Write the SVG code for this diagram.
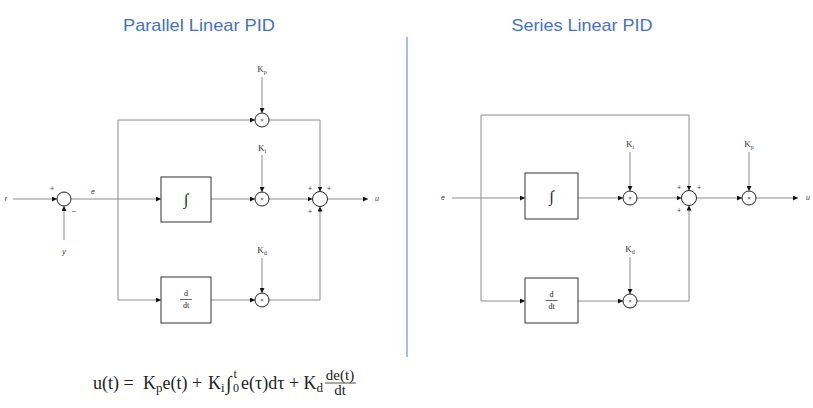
<svg xmlns="http://www.w3.org/2000/svg" width="813" height="408" viewBox="0 0 813 408">
<style>
.title{font-family:"Liberation Sans",Arial,sans-serif;font-size:17px;fill:#4472C4;text-anchor:middle}
.conn{fill:none;stroke:#8c8c8c;stroke-width:1}
.arr{marker-end:url(#ah)}
.blk{fill:#fff;stroke:#333;stroke-width:1}
.circ{fill:#fff;stroke:#222;stroke-width:1}
.sig{font-family:"Liberation Sans",Arial,sans-serif;font-size:7px;font-style:italic;fill:#333;text-anchor:middle}
.sgn{font-family:"Liberation Sans",Arial,sans-serif;font-size:7px;fill:#333;text-anchor:middle}
.x{font-family:"Liberation Sans",Arial,sans-serif;font-size:6px;fill:#333;text-anchor:middle}
.k{font-family:"Liberation Serif","Times New Roman",serif;font-size:9px;fill:#333;text-anchor:middle}
.op{font-family:"Liberation Serif","Times New Roman",serif;fill:#222;text-anchor:middle}
.eq{font-family:"Liberation Serif","DejaVu Serif",serif;font-size:18px;fill:#222}
</style>
<defs>
<marker id="ah" viewBox="0 0 6 6" markerWidth="5" markerHeight="5" refX="6" refY="3" orient="auto" markerUnits="userSpaceOnUse">
<path d="M0,0 L6,3 L0,6 z" fill="#111"/>
</marker>
</defs>
<rect width="813" height="408" fill="#fff"/>
<text class="title" x="199" y="31" textLength="152" lengthAdjust="spacingAndGlyphs">Parallel Linear PID</text>
<text class="title" x="582" y="31" textLength="141" lengthAdjust="spacingAndGlyphs">Series Linear PID</text>
<line x1="407" y1="37" x2="407" y2="357" stroke="#8FAADC" stroke-width="1.5"/>

<g id="connectors">
<!-- parallel -->
<path class="conn arr" d="M13,199 H57"/>
<path class="conn arr" d="M64,240 V206"/>
<path class="conn arr" d="M71,199 H161"/>
<path class="conn" d="M118,120 V300"/>
<path class="conn arr" d="M118,120 H255"/>
<path class="conn arr" d="M118,300 H161"/>
<path class="conn arr" d="M211,199 H255"/>
<path class="conn arr" d="M211,300 H255"/>
<path class="conn arr" d="M262,77 V113"/>
<path class="conn arr" d="M262,155 V192"/>
<path class="conn arr" d="M262,258 V293"/>
<path class="conn arr" d="M269,120 H320 V191.5"/>
<path class="conn arr" d="M269,199 H312.5"/>
<path class="conn arr" d="M269,300 H320 V206.5"/>
<path class="conn arr" d="M327.5,199 H368"/>
<!-- series -->
<path class="conn arr" d="M452,198 H525"/>
<path class="conn" d="M481,115 V301"/>
<path class="conn arr" d="M481,115 H689 V190.5"/>
<path class="conn arr" d="M481,301 H525"/>
<path class="conn arr" d="M578,198 H623"/>
<path class="conn arr" d="M578,301 H623"/>
<path class="conn arr" d="M630,152 V191"/>
<path class="conn arr" d="M630,257 V294"/>
<path class="conn arr" d="M637,198 H681.5"/>
<path class="conn arr" d="M637,301 H689 V205.5"/>
<path class="conn arr" d="M696.5,198 H742"/>
<path class="conn arr" d="M749,152 V191"/>
<path class="conn arr" d="M756,198 H798"/>
</g>

<!-- parallel nodes -->
<g id="p-r"><text class="sig" x="6" y="201">r</text></g>
<g id="p-y"><text class="sig" x="64" y="254">y</text></g>
<g id="p-e"><text class="sig" x="93" y="194">e</text></g>
<g id="p-u"><text class="sig" x="377" y="201">u</text></g>
<g id="p-sum1">
<circle class="circ" cx="64" cy="199" r="7"/>
<text class="sgn" x="52" y="191">+</text>
<text class="sgn" x="74" y="213">–</text>
</g>
<g id="p-int">
<rect class="blk" x="161" y="177" width="50" height="45"/>
<text class="op" x="186" y="205" font-size="16" font-style="italic">∫</text>
</g>
<g id="p-der">
<rect class="blk" x="161" y="277" width="50" height="46"/>
<text class="op" x="186" y="296" font-size="8">d</text>
<line x1="180" y1="299.5" x2="192" y2="299.5" stroke="#222" stroke-width="0.7"/>
<text class="op" x="186" y="308" font-size="8">dt</text>
</g>
<g id="p-kp"><text class="k" x="262" y="72">K<tspan font-size="6" dy="2">p</tspan></text></g>
<g id="p-ki"><text class="k" x="262" y="151">K<tspan font-size="6" dy="2">i</tspan></text></g>
<g id="p-kd"><text class="k" x="262" y="253">K<tspan font-size="6" dy="2">d</tspan></text></g>
<g id="p-m1"><circle class="circ" cx="262" cy="120" r="7"/><text class="x" x="262" y="122">×</text></g>
<g id="p-m2"><circle class="circ" cx="262" cy="199" r="7"/><text class="x" x="262" y="201">×</text></g>
<g id="p-m3"><circle class="circ" cx="262" cy="300" r="7"/><text class="x" x="262" y="302">×</text></g>
<g id="p-sum2">
<circle class="circ" cx="320" cy="199" r="7.5"/>
<text class="sgn" x="310" y="191">+</text>
<text class="sgn" x="329" y="191">+</text>
<text class="sgn" x="310" y="214">+</text>
</g>

<!-- series nodes -->
<g id="s-e"><text class="sig" x="443" y="200">e</text></g>
<g id="s-u"><text class="sig" x="808" y="200">u</text></g>
<g id="s-int">
<rect class="blk" x="525" y="173" width="53" height="46"/>
<text class="op" x="551.5" y="202" font-size="16" font-style="italic">∫</text>
</g>
<g id="s-der">
<rect class="blk" x="525" y="278" width="53" height="45"/>
<text class="op" x="551.5" y="297" font-size="8">d</text>
<line x1="545.5" y1="300.5" x2="557.5" y2="300.5" stroke="#222" stroke-width="0.7"/>
<text class="op" x="551.5" y="309" font-size="8">dt</text>
</g>
<g id="s-ki"><text class="k" x="630" y="147">K<tspan font-size="6" dy="2">i</tspan></text></g>
<g id="s-kd"><text class="k" x="630" y="252">K<tspan font-size="6" dy="2">d</tspan></text></g>
<g id="s-kp"><text class="k" x="749" y="147">K<tspan font-size="6" dy="2">p</tspan></text></g>
<g id="s-m1"><circle class="circ" cx="630" cy="198" r="7"/><text class="x" x="630" y="200">×</text></g>
<g id="s-m2"><circle class="circ" cx="630" cy="301" r="7"/><text class="x" x="630" y="303">×</text></g>
<g id="s-m3"><circle class="circ" cx="749" cy="198" r="7"/><text class="x" x="749" y="200">×</text></g>
<g id="s-sum">
<circle class="circ" cx="689" cy="198" r="7.5"/>
<text class="sgn" x="679" y="190">+</text>
<text class="sgn" x="699" y="190">+</text>
<text class="sgn" x="679" y="213">+</text>
</g>

<!-- formula -->
<g id="formula" class="eq">
<text x="93" y="389">u(t) =</text>
<text x="143" y="389">K<tspan font-size="13" dy="3">p</tspan><tspan dy="-3">e(t) +</tspan></text>
<text x="208" y="389">K<tspan font-size="13" dy="3">i</tspan></text>
<text x="226" y="390" font-size="20">∫</text>
<text x="233" y="392" font-size="12">0</text>
<text x="233.5" y="378" font-size="12">t</text>
<text x="241" y="389">e(τ)dτ + K<tspan font-size="13" dy="3">d</tspan></text>
<text x="340" y="380" font-size="15" text-anchor="middle">de(t)</text>
<line x1="325" y1="383" x2="356" y2="383" stroke="#222" stroke-width="0.8"/>
<text x="340" y="395" font-size="15" text-anchor="middle">dt</text>
</g>
</svg>
